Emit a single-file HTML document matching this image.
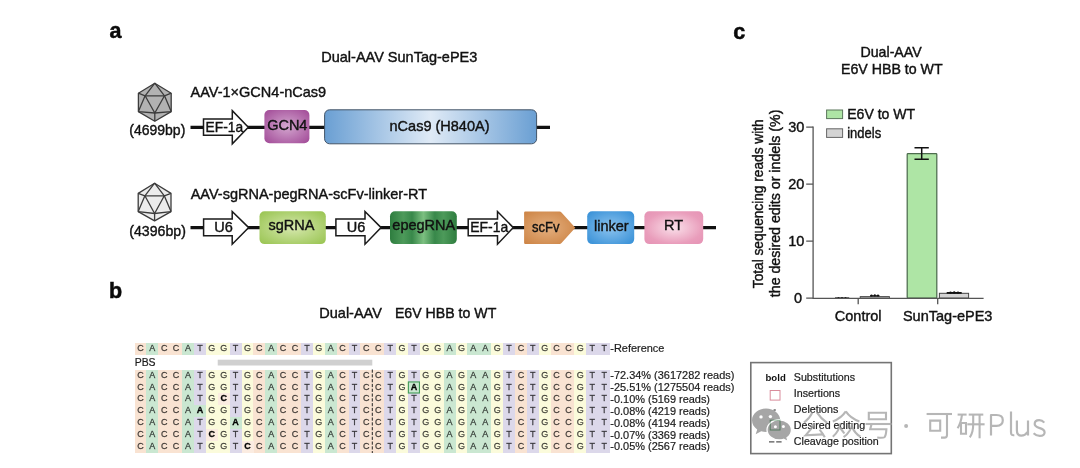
<!DOCTYPE html>
<html>
<head>
<meta charset="utf-8">
<title>Dual-AAV SunTag-ePE3</title>
<style>
html,body{margin:0;padding:0;background:#fff;}
body{width:1080px;height:468px;overflow:hidden;font-family:"Liberation Sans",sans-serif;}
svg{display:block;filter:blur(0.65px);}
text{font-family:"Liberation Sans",sans-serif;fill:#1c1c1c;}
.pl{font-weight:bold;font-size:21.5px;fill:#0a0a0a;stroke:#0a0a0a;stroke-width:0.5px;}
.t14{font-size:14.5px;fill:#111;stroke:#111;stroke-width:0.4px;}
.seq text{font-size:9px;text-anchor:middle;fill:#000;fill-opacity:0.68;stroke:#000;stroke-opacity:0.6;stroke-width:0.3px;}
.seq text.b{font-weight:bold;fill:#000;fill-opacity:1;stroke-opacity:1;}
.lab text{font-size:10.95px;fill:#1c1c1c;stroke:#1c1c1c;stroke-width:0.2px;}
</style>
</head>
<body>
<svg width="1080" height="468" viewBox="0 0 1080 468">
<defs>
  <radialGradient id="gGCN4" cx="50%" cy="50%" r="65%">
    <stop offset="0" stop-color="#d3a6cf"/><stop offset="1" stop-color="#a44f9a"/>
  </radialGradient>
  <linearGradient id="gCas" x1="0" x2="1" y1="0" y2="0">
    <stop offset="0" stop-color="#6a9fd3"/><stop offset="0.5" stop-color="#dfeaf6"/><stop offset="1" stop-color="#6a9fd3"/>
  </linearGradient>
  <radialGradient id="gSg" cx="50%" cy="50%" r="65%">
    <stop offset="0" stop-color="#d6e8ae"/><stop offset="1" stop-color="#9cc656"/>
  </radialGradient>
  <linearGradient id="gEpeg" x1="0" x2="1" y1="0" y2="0">
    <stop offset="0" stop-color="#2e7d3f"/><stop offset="0.2" stop-color="#4d9a5a"/><stop offset="0.33" stop-color="#38884a"/><stop offset="0.5" stop-color="#7cbf80"/><stop offset="0.67" stop-color="#38884a"/><stop offset="0.8" stop-color="#4d9a5a"/><stop offset="1" stop-color="#2e7d3f"/>
  </linearGradient>
  <radialGradient id="gSc" cx="45%" cy="50%" r="65%">
    <stop offset="0" stop-color="#e4b080"/><stop offset="1" stop-color="#cd8445"/>
  </radialGradient>
  <radialGradient id="gLk" cx="50%" cy="50%" r="65%">
    <stop offset="0" stop-color="#8cc3ee"/><stop offset="1" stop-color="#3a92d8"/>
  </radialGradient>
  <radialGradient id="gRT" cx="50%" cy="50%" r="65%">
    <stop offset="0" stop-color="#fae0ea"/><stop offset="0.75" stop-color="#e99dbb"/><stop offset="1" stop-color="#e695b6"/>
  </radialGradient>
</defs>

<!-- ================= PANEL A ================= -->
<g id="panelA">
  <text class="pl" x="109.5" y="38.2">a</text>
  <text class="t14" x="399.3" y="61.8" text-anchor="middle">Dual-AAV SunTag-ePE3</text>

  <!-- icosahedron 1 -->
  <g stroke="#3c3c3c" stroke-width="1.3" stroke-linejoin="round" fill="none">
    <polygon points="154.8,83.2 171.2,93.2 171.2,111.6 154.8,121.2 138.4,111.6 138.4,93.2" fill="#b2b2b2"/>
    <polygon points="145.1,95.8 164.5,95.8 154.8,113"/>
    <path d="M154.8,83.200L145.100,95.800M154.800,83.200L164.500,95.800M138.400,93.200L145.100,95.800M138.400,111.600L145.100,95.800M171.200,93.200L164.500,95.800M171.200,111.600L164.500,95.800M138.400,111.600L154.800,113M171.200,111.600L154.800,113M154.800,121.200L154.800,113"/>
  </g>
  <text class="t14" x="190.6" y="97.1">AAV-1×GCN4-nCas9</text>
  <text class="t14" x="129.3" y="134.8" textLength="56" lengthAdjust="spacingAndGlyphs">(4699bp)</text>

  <line x1="190.5" y1="127.3" x2="550" y2="127.3" stroke="#111" stroke-width="3.2"/>
  <!-- EF-1a arrow -->
  <polygon points="203.5,118.9 232.3,118.9 232.3,110.7 248.3,127.3 232.3,143.8 232.3,135.3 203.5,135.3" fill="#fff" stroke="#1a1a1a" stroke-width="1.5"/>
  <text class="t14" x="205.6" y="132.3" textLength="37.5" lengthAdjust="spacingAndGlyphs">EF-1a</text>
  <!-- GCN4 -->
  <rect x="264.4" y="110" width="45" height="33.3" rx="5" fill="url(#gGCN4)"/>
  <text class="t14" x="287.3" y="130.2" text-anchor="middle">GCN4</text>
  <!-- nCas9 -->
  <rect x="324.6" y="109.8" width="212" height="34" rx="5" fill="url(#gCas)" stroke="#435467" stroke-width="1"/>
  <text class="t14" x="439.5" y="130.6" text-anchor="middle">nCas9 (H840A)</text>

  <!-- icosahedron 2 -->
  <g stroke="#3c3c3c" stroke-width="1.3" stroke-linejoin="round" fill="none" transform="translate(-0.2,100)">
    <polygon points="154.8,83.200 171.200,93.400 171.200,111.600 154.800,120.900 138.400,111.600 138.400,93.400" fill="#ececec"/>
    <polygon points="145.100,95.800 164.500,95.800 154.800,113.500"/>
    <path d="M154.800,83.200L145.100,95.800M154.800,83.200L164.500,95.800M138.400,93.400L145.100,95.800M138.400,111.600L145.100,95.800M171.200,93.400L164.500,95.800M171.200,111.600L164.500,95.800M138.400,111.600L154.800,113.500M171.200,111.600L154.800,113.500M154.800,120.900L154.800,113.500"/>
  </g>
  <text class="t14" x="190.7" y="198.9">AAV-sgRNA-pegRNA-scFv-linker-RT</text>
  <text class="t14" x="129.3" y="235.8" textLength="56.6" lengthAdjust="spacingAndGlyphs">(4396bp)</text>

  <line x1="190.5" y1="227.6" x2="716" y2="227.6" stroke="#111" stroke-width="3.2"/>
  <!-- U6 arrow 1 -->
  <polygon points="203.6,218.9 232.2,218.9 232.2,211.5 248.7,227.6 232.2,244.2 232.2,235.8 203.6,235.8" fill="#fff" stroke="#1a1a1a" stroke-width="1.5"/>
  <text class="t14" x="223.6" y="231.8" text-anchor="middle">U6</text>
  <!-- sgRNA -->
  <rect x="259.5" y="211.3" width="66.3" height="32.8" rx="5" fill="url(#gSg)"/>
  <text class="t14" x="291.5" y="230.3" text-anchor="middle">sgRNA</text>
  <!-- U6 arrow 2 -->
  <polygon points="335.9,218.9 365,218.9 365,211.5 381.1,227.6 365,244.2 365,235.8 335.9,235.8" fill="#fff" stroke="#1a1a1a" stroke-width="1.5"/>
  <text class="t14" x="356" y="231.8" text-anchor="middle">U6</text>
  <!-- epegRNA -->
  <rect x="390" y="211.3" width="66.8" height="32.8" rx="5" fill="url(#gEpeg)"/>
  <text class="t14" x="423.8" y="230.3" text-anchor="middle">epegRNA</text>
  <!-- EF-1a arrow 2 -->
  <polygon points="468.2,218.9 497.5,218.9 497.5,211.5 513.3,227.6 497.5,244.2 497.5,235.8 468.2,235.8" fill="#fff" stroke="#1a1a1a" stroke-width="1.5"/>
  <text class="t14" x="470.3" y="232" textLength="38" lengthAdjust="spacingAndGlyphs">EF-1a</text>
  <!-- scFv -->
  <path d="M525.3,211.5H559.5Q560.7,211.5 561.5,212.4L575.3,227.7L561.5,243.1Q560.700,244 559.500,244H525.300Q524.100,244 524.100,242.800V212.700Q524.100,211.500 525.300,211.500Z" fill="url(#gSc)"/>
  <text class="t14" x="545.7" y="231.7" text-anchor="middle" textLength="27.5" lengthAdjust="spacingAndGlyphs">scFv</text>
  <!-- linker -->
  <rect x="587.2" y="211.3" width="47" height="32.8" rx="5" fill="url(#gLk)"/>
  <text class="t14" x="611.3" y="230.8" text-anchor="middle">linker</text>
  <!-- RT -->
  <rect x="644.4" y="211.3" width="58.8" height="32.8" rx="5" fill="url(#gRT)"/>
  <text class="t14" x="673.6" y="229.8" text-anchor="middle">RT</text>
</g>

<!-- PANEL_B_START -->
<g id="panelB">
<text class="pl" x="109" y="298">b</text>
<text class="t14" x="319.3" y="318.3">Dual-AAV</text>
<text class="t14" x="394.9" y="318.3" textLength="101.4" lengthAdjust="spacingAndGlyphs">E6V HBB to WT</text>
<g shape-rendering="crispEdges">
<rect x="134.50" y="343.00" width="12.19" height="11.80" fill="#f9e3d2"/>
<rect x="146.39" y="343.00" width="12.19" height="11.80" fill="#cae7d1"/>
<rect x="158.28" y="343.00" width="24.08" height="11.80" fill="#f9e3d2"/>
<rect x="182.06" y="343.00" width="12.19" height="11.80" fill="#cae7d1"/>
<rect x="193.95" y="343.00" width="12.19" height="11.80" fill="#dcd8ea"/>
<rect x="205.84" y="343.00" width="24.08" height="11.80" fill="#fbfbdb"/>
<rect x="229.62" y="343.00" width="12.19" height="11.80" fill="#dcd8ea"/>
<rect x="241.51" y="343.00" width="12.19" height="11.80" fill="#fbfbdb"/>
<rect x="253.40" y="343.00" width="12.19" height="11.80" fill="#f9e3d2"/>
<rect x="265.29" y="343.00" width="12.19" height="11.80" fill="#cae7d1"/>
<rect x="277.18" y="343.00" width="24.08" height="11.80" fill="#f9e3d2"/>
<rect x="300.96" y="343.00" width="12.19" height="11.80" fill="#dcd8ea"/>
<rect x="312.85" y="343.00" width="12.19" height="11.80" fill="#fbfbdb"/>
<rect x="324.74" y="343.00" width="12.19" height="11.80" fill="#cae7d1"/>
<rect x="336.63" y="343.00" width="12.19" height="11.80" fill="#f9e3d2"/>
<rect x="348.52" y="343.00" width="12.19" height="11.80" fill="#dcd8ea"/>
<rect x="360.41" y="343.00" width="24.08" height="11.80" fill="#f9e3d2"/>
<rect x="384.19" y="343.00" width="12.19" height="11.80" fill="#dcd8ea"/>
<rect x="396.08" y="343.00" width="12.19" height="11.80" fill="#fbfbdb"/>
<rect x="407.97" y="343.00" width="12.19" height="11.80" fill="#dcd8ea"/>
<rect x="419.86" y="343.00" width="24.08" height="11.80" fill="#fbfbdb"/>
<rect x="443.64" y="343.00" width="12.19" height="11.80" fill="#cae7d1"/>
<rect x="455.53" y="343.00" width="12.19" height="11.80" fill="#fbfbdb"/>
<rect x="467.42" y="343.00" width="24.08" height="11.80" fill="#cae7d1"/>
<rect x="491.20" y="343.00" width="12.19" height="11.80" fill="#fbfbdb"/>
<rect x="503.09" y="343.00" width="12.19" height="11.80" fill="#dcd8ea"/>
<rect x="514.98" y="343.00" width="12.19" height="11.80" fill="#f9e3d2"/>
<rect x="526.87" y="343.00" width="12.19" height="11.80" fill="#dcd8ea"/>
<rect x="538.76" y="343.00" width="12.19" height="11.80" fill="#fbfbdb"/>
<rect x="550.65" y="343.00" width="24.08" height="11.80" fill="#f9e3d2"/>
<rect x="574.43" y="343.00" width="12.19" height="11.80" fill="#fbfbdb"/>
<rect x="586.32" y="343.00" width="24.08" height="11.80" fill="#dcd8ea"/>
<rect x="134.50" y="369.70" width="12.19" height="12.15" fill="#f9e3d2"/>
<rect x="146.39" y="369.70" width="12.19" height="12.15" fill="#cae7d1"/>
<rect x="158.28" y="369.70" width="24.08" height="12.15" fill="#f9e3d2"/>
<rect x="182.06" y="369.70" width="12.19" height="12.15" fill="#cae7d1"/>
<rect x="193.95" y="369.70" width="12.19" height="12.15" fill="#dcd8ea"/>
<rect x="205.84" y="369.70" width="24.08" height="12.15" fill="#fbfbdb"/>
<rect x="229.62" y="369.70" width="12.19" height="12.15" fill="#dcd8ea"/>
<rect x="241.51" y="369.70" width="12.19" height="12.15" fill="#fbfbdb"/>
<rect x="253.40" y="369.70" width="12.19" height="12.15" fill="#f9e3d2"/>
<rect x="265.29" y="369.70" width="12.19" height="12.15" fill="#cae7d1"/>
<rect x="277.18" y="369.70" width="24.08" height="12.15" fill="#f9e3d2"/>
<rect x="300.96" y="369.70" width="12.19" height="12.15" fill="#dcd8ea"/>
<rect x="312.85" y="369.70" width="12.19" height="12.15" fill="#fbfbdb"/>
<rect x="324.74" y="369.70" width="12.19" height="12.15" fill="#cae7d1"/>
<rect x="336.63" y="369.70" width="12.19" height="12.15" fill="#f9e3d2"/>
<rect x="348.52" y="369.70" width="12.19" height="12.15" fill="#dcd8ea"/>
<rect x="360.41" y="369.70" width="24.08" height="12.15" fill="#f9e3d2"/>
<rect x="384.19" y="369.70" width="12.19" height="12.15" fill="#dcd8ea"/>
<rect x="396.08" y="369.70" width="12.19" height="12.15" fill="#fbfbdb"/>
<rect x="407.97" y="369.70" width="12.19" height="12.15" fill="#dcd8ea"/>
<rect x="419.86" y="369.70" width="24.08" height="12.15" fill="#fbfbdb"/>
<rect x="443.64" y="369.70" width="12.19" height="12.15" fill="#cae7d1"/>
<rect x="455.53" y="369.70" width="12.19" height="12.15" fill="#fbfbdb"/>
<rect x="467.42" y="369.70" width="24.08" height="12.15" fill="#cae7d1"/>
<rect x="491.20" y="369.70" width="12.19" height="12.15" fill="#fbfbdb"/>
<rect x="503.09" y="369.70" width="12.19" height="12.15" fill="#dcd8ea"/>
<rect x="514.98" y="369.70" width="12.19" height="12.15" fill="#f9e3d2"/>
<rect x="526.87" y="369.70" width="12.19" height="12.15" fill="#dcd8ea"/>
<rect x="538.76" y="369.70" width="12.19" height="12.15" fill="#fbfbdb"/>
<rect x="550.65" y="369.70" width="24.08" height="12.15" fill="#f9e3d2"/>
<rect x="574.43" y="369.70" width="12.19" height="12.15" fill="#fbfbdb"/>
<rect x="586.32" y="369.70" width="24.08" height="12.15" fill="#dcd8ea"/>
<rect x="134.50" y="381.55" width="12.19" height="12.15" fill="#f9e3d2"/>
<rect x="146.39" y="381.55" width="12.19" height="12.15" fill="#cae7d1"/>
<rect x="158.28" y="381.55" width="24.08" height="12.15" fill="#f9e3d2"/>
<rect x="182.06" y="381.55" width="12.19" height="12.15" fill="#cae7d1"/>
<rect x="193.95" y="381.55" width="12.19" height="12.15" fill="#dcd8ea"/>
<rect x="205.84" y="381.55" width="24.08" height="12.15" fill="#fbfbdb"/>
<rect x="229.62" y="381.55" width="12.19" height="12.15" fill="#dcd8ea"/>
<rect x="241.51" y="381.55" width="12.19" height="12.15" fill="#fbfbdb"/>
<rect x="253.40" y="381.55" width="12.19" height="12.15" fill="#f9e3d2"/>
<rect x="265.29" y="381.55" width="12.19" height="12.15" fill="#cae7d1"/>
<rect x="277.18" y="381.55" width="24.08" height="12.15" fill="#f9e3d2"/>
<rect x="300.96" y="381.55" width="12.19" height="12.15" fill="#dcd8ea"/>
<rect x="312.85" y="381.55" width="12.19" height="12.15" fill="#fbfbdb"/>
<rect x="324.74" y="381.55" width="12.19" height="12.15" fill="#cae7d1"/>
<rect x="336.63" y="381.55" width="12.19" height="12.15" fill="#f9e3d2"/>
<rect x="348.52" y="381.55" width="12.19" height="12.15" fill="#dcd8ea"/>
<rect x="360.41" y="381.55" width="24.08" height="12.15" fill="#f9e3d2"/>
<rect x="384.19" y="381.55" width="12.19" height="12.15" fill="#dcd8ea"/>
<rect x="396.08" y="381.55" width="12.19" height="12.15" fill="#fbfbdb"/>
<rect x="407.97" y="381.55" width="12.19" height="12.15" fill="#cae7d1"/>
<rect x="419.86" y="381.55" width="24.08" height="12.15" fill="#fbfbdb"/>
<rect x="443.64" y="381.55" width="12.19" height="12.15" fill="#cae7d1"/>
<rect x="455.53" y="381.55" width="12.19" height="12.15" fill="#fbfbdb"/>
<rect x="467.42" y="381.55" width="24.08" height="12.15" fill="#cae7d1"/>
<rect x="491.20" y="381.55" width="12.19" height="12.15" fill="#fbfbdb"/>
<rect x="503.09" y="381.55" width="12.19" height="12.15" fill="#dcd8ea"/>
<rect x="514.98" y="381.55" width="12.19" height="12.15" fill="#f9e3d2"/>
<rect x="526.87" y="381.55" width="12.19" height="12.15" fill="#dcd8ea"/>
<rect x="538.76" y="381.55" width="12.19" height="12.15" fill="#fbfbdb"/>
<rect x="550.65" y="381.55" width="24.08" height="12.15" fill="#f9e3d2"/>
<rect x="574.43" y="381.55" width="12.19" height="12.15" fill="#fbfbdb"/>
<rect x="586.32" y="381.55" width="24.08" height="12.15" fill="#dcd8ea"/>
<rect x="134.50" y="393.40" width="12.19" height="12.15" fill="#f9e3d2"/>
<rect x="146.39" y="393.40" width="12.19" height="12.15" fill="#cae7d1"/>
<rect x="158.28" y="393.40" width="24.08" height="12.15" fill="#f9e3d2"/>
<rect x="182.06" y="393.40" width="12.19" height="12.15" fill="#cae7d1"/>
<rect x="193.95" y="393.40" width="12.19" height="12.15" fill="#dcd8ea"/>
<rect x="205.84" y="393.40" width="12.19" height="12.15" fill="#fbfbdb"/>
<rect x="217.73" y="393.40" width="12.19" height="12.15" fill="#f9e3d2"/>
<rect x="229.62" y="393.40" width="12.19" height="12.15" fill="#dcd8ea"/>
<rect x="241.51" y="393.40" width="12.19" height="12.15" fill="#fbfbdb"/>
<rect x="253.40" y="393.40" width="12.19" height="12.15" fill="#f9e3d2"/>
<rect x="265.29" y="393.40" width="12.19" height="12.15" fill="#cae7d1"/>
<rect x="277.18" y="393.40" width="24.08" height="12.15" fill="#f9e3d2"/>
<rect x="300.96" y="393.40" width="12.19" height="12.15" fill="#dcd8ea"/>
<rect x="312.85" y="393.40" width="12.19" height="12.15" fill="#fbfbdb"/>
<rect x="324.74" y="393.40" width="12.19" height="12.15" fill="#cae7d1"/>
<rect x="336.63" y="393.40" width="12.19" height="12.15" fill="#f9e3d2"/>
<rect x="348.52" y="393.40" width="12.19" height="12.15" fill="#dcd8ea"/>
<rect x="360.41" y="393.40" width="24.08" height="12.15" fill="#f9e3d2"/>
<rect x="384.19" y="393.40" width="12.19" height="12.15" fill="#dcd8ea"/>
<rect x="396.08" y="393.40" width="12.19" height="12.15" fill="#fbfbdb"/>
<rect x="407.97" y="393.40" width="12.19" height="12.15" fill="#dcd8ea"/>
<rect x="419.86" y="393.40" width="24.08" height="12.15" fill="#fbfbdb"/>
<rect x="443.64" y="393.40" width="12.19" height="12.15" fill="#cae7d1"/>
<rect x="455.53" y="393.40" width="12.19" height="12.15" fill="#fbfbdb"/>
<rect x="467.42" y="393.40" width="24.08" height="12.15" fill="#cae7d1"/>
<rect x="491.20" y="393.40" width="12.19" height="12.15" fill="#fbfbdb"/>
<rect x="503.09" y="393.40" width="12.19" height="12.15" fill="#dcd8ea"/>
<rect x="514.98" y="393.40" width="12.19" height="12.15" fill="#f9e3d2"/>
<rect x="526.87" y="393.40" width="12.19" height="12.15" fill="#dcd8ea"/>
<rect x="538.76" y="393.40" width="12.19" height="12.15" fill="#fbfbdb"/>
<rect x="550.65" y="393.40" width="24.08" height="12.15" fill="#f9e3d2"/>
<rect x="574.43" y="393.40" width="12.19" height="12.15" fill="#fbfbdb"/>
<rect x="586.32" y="393.40" width="24.08" height="12.15" fill="#dcd8ea"/>
<rect x="217.73" y="393.40" width="12.19" height="12.15" fill="#fbece1"/>
<rect x="134.50" y="405.25" width="12.19" height="12.15" fill="#f9e3d2"/>
<rect x="146.39" y="405.25" width="12.19" height="12.15" fill="#cae7d1"/>
<rect x="158.28" y="405.25" width="24.08" height="12.15" fill="#f9e3d2"/>
<rect x="182.06" y="405.25" width="24.08" height="12.15" fill="#cae7d1"/>
<rect x="205.84" y="405.25" width="24.08" height="12.15" fill="#fbfbdb"/>
<rect x="229.62" y="405.25" width="12.19" height="12.15" fill="#dcd8ea"/>
<rect x="241.51" y="405.25" width="12.19" height="12.15" fill="#fbfbdb"/>
<rect x="253.40" y="405.25" width="12.19" height="12.15" fill="#f9e3d2"/>
<rect x="265.29" y="405.25" width="12.19" height="12.15" fill="#cae7d1"/>
<rect x="277.18" y="405.25" width="24.08" height="12.15" fill="#f9e3d2"/>
<rect x="300.96" y="405.25" width="12.19" height="12.15" fill="#dcd8ea"/>
<rect x="312.85" y="405.25" width="12.19" height="12.15" fill="#fbfbdb"/>
<rect x="324.74" y="405.25" width="12.19" height="12.15" fill="#cae7d1"/>
<rect x="336.63" y="405.25" width="12.19" height="12.15" fill="#f9e3d2"/>
<rect x="348.52" y="405.25" width="12.19" height="12.15" fill="#dcd8ea"/>
<rect x="360.41" y="405.25" width="24.08" height="12.15" fill="#f9e3d2"/>
<rect x="384.19" y="405.25" width="12.19" height="12.15" fill="#dcd8ea"/>
<rect x="396.08" y="405.25" width="12.19" height="12.15" fill="#fbfbdb"/>
<rect x="407.97" y="405.25" width="12.19" height="12.15" fill="#dcd8ea"/>
<rect x="419.86" y="405.25" width="24.08" height="12.15" fill="#fbfbdb"/>
<rect x="443.64" y="405.25" width="12.19" height="12.15" fill="#cae7d1"/>
<rect x="455.53" y="405.25" width="12.19" height="12.15" fill="#fbfbdb"/>
<rect x="467.42" y="405.25" width="24.08" height="12.15" fill="#cae7d1"/>
<rect x="491.20" y="405.25" width="12.19" height="12.15" fill="#fbfbdb"/>
<rect x="503.09" y="405.25" width="12.19" height="12.15" fill="#dcd8ea"/>
<rect x="514.98" y="405.25" width="12.19" height="12.15" fill="#f9e3d2"/>
<rect x="526.87" y="405.25" width="12.19" height="12.15" fill="#dcd8ea"/>
<rect x="538.76" y="405.25" width="12.19" height="12.15" fill="#fbfbdb"/>
<rect x="550.65" y="405.25" width="24.08" height="12.15" fill="#f9e3d2"/>
<rect x="574.43" y="405.25" width="12.19" height="12.15" fill="#fbfbdb"/>
<rect x="586.32" y="405.25" width="24.08" height="12.15" fill="#dcd8ea"/>
<rect x="134.50" y="417.10" width="12.19" height="12.15" fill="#f9e3d2"/>
<rect x="146.39" y="417.10" width="12.19" height="12.15" fill="#cae7d1"/>
<rect x="158.28" y="417.10" width="24.08" height="12.15" fill="#f9e3d2"/>
<rect x="182.06" y="417.10" width="12.19" height="12.15" fill="#cae7d1"/>
<rect x="193.95" y="417.10" width="12.19" height="12.15" fill="#dcd8ea"/>
<rect x="205.84" y="417.10" width="24.08" height="12.15" fill="#fbfbdb"/>
<rect x="229.62" y="417.10" width="12.19" height="12.15" fill="#cae7d1"/>
<rect x="241.51" y="417.10" width="12.19" height="12.15" fill="#fbfbdb"/>
<rect x="253.40" y="417.10" width="12.19" height="12.15" fill="#f9e3d2"/>
<rect x="265.29" y="417.10" width="12.19" height="12.15" fill="#cae7d1"/>
<rect x="277.18" y="417.10" width="24.08" height="12.15" fill="#f9e3d2"/>
<rect x="300.96" y="417.10" width="12.19" height="12.15" fill="#dcd8ea"/>
<rect x="312.85" y="417.10" width="12.19" height="12.15" fill="#fbfbdb"/>
<rect x="324.74" y="417.10" width="12.19" height="12.15" fill="#cae7d1"/>
<rect x="336.63" y="417.10" width="12.19" height="12.15" fill="#f9e3d2"/>
<rect x="348.52" y="417.10" width="12.19" height="12.15" fill="#dcd8ea"/>
<rect x="360.41" y="417.10" width="24.08" height="12.15" fill="#f9e3d2"/>
<rect x="384.19" y="417.10" width="12.19" height="12.15" fill="#dcd8ea"/>
<rect x="396.08" y="417.10" width="12.19" height="12.15" fill="#fbfbdb"/>
<rect x="407.97" y="417.10" width="12.19" height="12.15" fill="#dcd8ea"/>
<rect x="419.86" y="417.10" width="24.08" height="12.15" fill="#fbfbdb"/>
<rect x="443.64" y="417.10" width="12.19" height="12.15" fill="#cae7d1"/>
<rect x="455.53" y="417.10" width="12.19" height="12.15" fill="#fbfbdb"/>
<rect x="467.42" y="417.10" width="24.08" height="12.15" fill="#cae7d1"/>
<rect x="491.20" y="417.10" width="12.19" height="12.15" fill="#fbfbdb"/>
<rect x="503.09" y="417.10" width="12.19" height="12.15" fill="#dcd8ea"/>
<rect x="514.98" y="417.10" width="12.19" height="12.15" fill="#f9e3d2"/>
<rect x="526.87" y="417.10" width="12.19" height="12.15" fill="#dcd8ea"/>
<rect x="538.76" y="417.10" width="12.19" height="12.15" fill="#fbfbdb"/>
<rect x="550.65" y="417.10" width="24.08" height="12.15" fill="#f9e3d2"/>
<rect x="574.43" y="417.10" width="12.19" height="12.15" fill="#fbfbdb"/>
<rect x="586.32" y="417.10" width="24.08" height="12.15" fill="#dcd8ea"/>
<rect x="134.50" y="428.95" width="12.19" height="12.15" fill="#f9e3d2"/>
<rect x="146.39" y="428.95" width="12.19" height="12.15" fill="#cae7d1"/>
<rect x="158.28" y="428.95" width="24.08" height="12.15" fill="#f9e3d2"/>
<rect x="182.06" y="428.95" width="12.19" height="12.15" fill="#cae7d1"/>
<rect x="193.95" y="428.95" width="12.19" height="12.15" fill="#dcd8ea"/>
<rect x="205.84" y="428.95" width="12.19" height="12.15" fill="#f9e3d2"/>
<rect x="217.73" y="428.95" width="12.19" height="12.15" fill="#fbfbdb"/>
<rect x="229.62" y="428.95" width="12.19" height="12.15" fill="#dcd8ea"/>
<rect x="241.51" y="428.95" width="12.19" height="12.15" fill="#fbfbdb"/>
<rect x="253.40" y="428.95" width="12.19" height="12.15" fill="#f9e3d2"/>
<rect x="265.29" y="428.95" width="12.19" height="12.15" fill="#cae7d1"/>
<rect x="277.18" y="428.95" width="24.08" height="12.15" fill="#f9e3d2"/>
<rect x="300.96" y="428.95" width="12.19" height="12.15" fill="#dcd8ea"/>
<rect x="312.85" y="428.95" width="12.19" height="12.15" fill="#fbfbdb"/>
<rect x="324.74" y="428.95" width="12.19" height="12.15" fill="#cae7d1"/>
<rect x="336.63" y="428.95" width="12.19" height="12.15" fill="#f9e3d2"/>
<rect x="348.52" y="428.95" width="12.19" height="12.15" fill="#dcd8ea"/>
<rect x="360.41" y="428.95" width="24.08" height="12.15" fill="#f9e3d2"/>
<rect x="384.19" y="428.95" width="12.19" height="12.15" fill="#dcd8ea"/>
<rect x="396.08" y="428.95" width="12.19" height="12.15" fill="#fbfbdb"/>
<rect x="407.97" y="428.95" width="12.19" height="12.15" fill="#dcd8ea"/>
<rect x="419.86" y="428.95" width="24.08" height="12.15" fill="#fbfbdb"/>
<rect x="443.64" y="428.95" width="12.19" height="12.15" fill="#cae7d1"/>
<rect x="455.53" y="428.95" width="12.19" height="12.15" fill="#fbfbdb"/>
<rect x="467.42" y="428.95" width="24.08" height="12.15" fill="#cae7d1"/>
<rect x="491.20" y="428.95" width="12.19" height="12.15" fill="#fbfbdb"/>
<rect x="503.09" y="428.95" width="12.19" height="12.15" fill="#dcd8ea"/>
<rect x="514.98" y="428.95" width="12.19" height="12.15" fill="#f9e3d2"/>
<rect x="526.87" y="428.95" width="12.19" height="12.15" fill="#dcd8ea"/>
<rect x="538.76" y="428.95" width="12.19" height="12.15" fill="#fbfbdb"/>
<rect x="550.65" y="428.95" width="24.08" height="12.15" fill="#f9e3d2"/>
<rect x="574.43" y="428.95" width="12.19" height="12.15" fill="#fbfbdb"/>
<rect x="586.32" y="428.95" width="24.08" height="12.15" fill="#dcd8ea"/>
<rect x="205.84" y="428.95" width="12.19" height="12.15" fill="#fbece1"/>
<rect x="134.50" y="440.80" width="12.19" height="12.15" fill="#f9e3d2"/>
<rect x="146.39" y="440.80" width="12.19" height="12.15" fill="#cae7d1"/>
<rect x="158.28" y="440.80" width="24.08" height="12.15" fill="#f9e3d2"/>
<rect x="182.06" y="440.80" width="12.19" height="12.15" fill="#cae7d1"/>
<rect x="193.95" y="440.80" width="12.19" height="12.15" fill="#dcd8ea"/>
<rect x="205.84" y="440.80" width="24.08" height="12.15" fill="#fbfbdb"/>
<rect x="229.62" y="440.80" width="12.19" height="12.15" fill="#dcd8ea"/>
<rect x="241.51" y="440.80" width="24.08" height="12.15" fill="#f9e3d2"/>
<rect x="265.29" y="440.80" width="12.19" height="12.15" fill="#cae7d1"/>
<rect x="277.18" y="440.80" width="24.08" height="12.15" fill="#f9e3d2"/>
<rect x="300.96" y="440.80" width="12.19" height="12.15" fill="#dcd8ea"/>
<rect x="312.85" y="440.80" width="12.19" height="12.15" fill="#fbfbdb"/>
<rect x="324.74" y="440.80" width="12.19" height="12.15" fill="#cae7d1"/>
<rect x="336.63" y="440.80" width="12.19" height="12.15" fill="#f9e3d2"/>
<rect x="348.52" y="440.80" width="12.19" height="12.15" fill="#dcd8ea"/>
<rect x="360.41" y="440.80" width="24.08" height="12.15" fill="#f9e3d2"/>
<rect x="384.19" y="440.80" width="12.19" height="12.15" fill="#dcd8ea"/>
<rect x="396.08" y="440.80" width="12.19" height="12.15" fill="#fbfbdb"/>
<rect x="407.97" y="440.80" width="12.19" height="12.15" fill="#dcd8ea"/>
<rect x="419.86" y="440.80" width="24.08" height="12.15" fill="#fbfbdb"/>
<rect x="443.64" y="440.80" width="12.19" height="12.15" fill="#cae7d1"/>
<rect x="455.53" y="440.80" width="12.19" height="12.15" fill="#fbfbdb"/>
<rect x="467.42" y="440.80" width="24.08" height="12.15" fill="#cae7d1"/>
<rect x="491.20" y="440.80" width="12.19" height="12.15" fill="#fbfbdb"/>
<rect x="503.09" y="440.80" width="12.19" height="12.15" fill="#dcd8ea"/>
<rect x="514.98" y="440.80" width="12.19" height="12.15" fill="#f9e3d2"/>
<rect x="526.87" y="440.80" width="12.19" height="12.15" fill="#dcd8ea"/>
<rect x="538.76" y="440.80" width="12.19" height="12.15" fill="#fbfbdb"/>
<rect x="550.65" y="440.80" width="24.08" height="12.15" fill="#f9e3d2"/>
<rect x="574.43" y="440.80" width="12.19" height="12.15" fill="#fbfbdb"/>
<rect x="586.32" y="440.80" width="24.08" height="12.15" fill="#dcd8ea"/>
<rect x="241.51" y="440.80" width="12.19" height="12.15" fill="#fbece1"/>
</g>
<g class="seq">
<text x="140.44" y="351.05">C</text>
<text x="152.34" y="351.05">A</text>
<text x="164.22" y="351.05">C</text>
<text x="176.12" y="351.05">C</text>
<text x="188.00" y="351.05">A</text>
<text x="199.90" y="351.05">T</text>
<text x="211.78" y="351.05">G</text>
<text x="223.68" y="351.05">G</text>
<text x="235.56" y="351.05">T</text>
<text x="247.46" y="351.05">G</text>
<text x="259.35" y="351.05">C</text>
<text x="271.24" y="351.05">A</text>
<text x="283.12" y="351.05">C</text>
<text x="295.01" y="351.05">C</text>
<text x="306.90" y="351.05">T</text>
<text x="318.80" y="351.05">G</text>
<text x="330.69" y="351.05">A</text>
<text x="342.58" y="351.05">C</text>
<text x="354.47" y="351.05">T</text>
<text x="366.36" y="351.05">C</text>
<text x="378.25" y="351.05">C</text>
<text x="390.13" y="351.05">T</text>
<text x="402.03" y="351.05">G</text>
<text x="413.92" y="351.05">T</text>
<text x="425.81" y="351.05">G</text>
<text x="437.69" y="351.05">G</text>
<text x="449.59" y="351.05">A</text>
<text x="461.48" y="351.05">G</text>
<text x="473.37" y="351.05">A</text>
<text x="485.25" y="351.05">A</text>
<text x="497.15" y="351.05">G</text>
<text x="509.04" y="351.05">T</text>
<text x="520.92" y="351.05">C</text>
<text x="532.82" y="351.05">T</text>
<text x="544.71" y="351.05">G</text>
<text x="556.60" y="351.05">C</text>
<text x="568.49" y="351.05">C</text>
<text x="580.38" y="351.05">G</text>
<text x="592.27" y="351.05">T</text>
<text x="604.15" y="351.05">T</text>
<text x="140.44" y="377.65">C</text>
<text x="152.34" y="377.65">A</text>
<text x="164.22" y="377.65">C</text>
<text x="176.12" y="377.65">C</text>
<text x="188.00" y="377.65">A</text>
<text x="199.90" y="377.65">T</text>
<text x="211.78" y="377.65">G</text>
<text x="223.68" y="377.65">G</text>
<text x="235.56" y="377.65">T</text>
<text x="247.46" y="377.65">G</text>
<text x="259.35" y="377.65">C</text>
<text x="271.24" y="377.65">A</text>
<text x="283.12" y="377.65">C</text>
<text x="295.01" y="377.65">C</text>
<text x="306.90" y="377.65">T</text>
<text x="318.80" y="377.65">G</text>
<text x="330.69" y="377.65">A</text>
<text x="342.58" y="377.65">C</text>
<text x="354.47" y="377.65">T</text>
<text x="366.36" y="377.65">C</text>
<text x="378.25" y="377.65">C</text>
<text x="390.13" y="377.65">T</text>
<text x="402.03" y="377.65">G</text>
<text x="413.92" y="377.65">T</text>
<text x="425.81" y="377.65">G</text>
<text x="437.69" y="377.65">G</text>
<text x="449.59" y="377.65">A</text>
<text x="461.48" y="377.65">G</text>
<text x="473.37" y="377.65">A</text>
<text x="485.25" y="377.65">A</text>
<text x="497.15" y="377.65">G</text>
<text x="509.04" y="377.65">T</text>
<text x="520.92" y="377.65">C</text>
<text x="532.82" y="377.65">T</text>
<text x="544.71" y="377.65">G</text>
<text x="556.60" y="377.65">C</text>
<text x="568.49" y="377.65">C</text>
<text x="580.38" y="377.65">G</text>
<text x="592.27" y="377.65">T</text>
<text x="604.15" y="377.65">T</text>
<text x="140.44" y="389.50">C</text>
<text x="152.34" y="389.50">A</text>
<text x="164.22" y="389.50">C</text>
<text x="176.12" y="389.50">C</text>
<text x="188.00" y="389.50">A</text>
<text x="199.90" y="389.50">T</text>
<text x="211.78" y="389.50">G</text>
<text x="223.68" y="389.50">G</text>
<text x="235.56" y="389.50">T</text>
<text x="247.46" y="389.50">G</text>
<text x="259.35" y="389.50">C</text>
<text x="271.24" y="389.50">A</text>
<text x="283.12" y="389.50">C</text>
<text x="295.01" y="389.50">C</text>
<text x="306.90" y="389.50">T</text>
<text x="318.80" y="389.50">G</text>
<text x="330.69" y="389.50">A</text>
<text x="342.58" y="389.50">C</text>
<text x="354.47" y="389.50">T</text>
<text x="366.36" y="389.50">C</text>
<text x="378.25" y="389.50">C</text>
<text x="390.13" y="389.50">T</text>
<text x="402.03" y="389.50">G</text>
<text x="413.92" y="389.50" class="b">A</text>
<text x="425.81" y="389.50">G</text>
<text x="437.69" y="389.50">G</text>
<text x="449.59" y="389.50">A</text>
<text x="461.48" y="389.50">G</text>
<text x="473.37" y="389.50">A</text>
<text x="485.25" y="389.50">A</text>
<text x="497.15" y="389.50">G</text>
<text x="509.04" y="389.50">T</text>
<text x="520.92" y="389.50">C</text>
<text x="532.82" y="389.50">T</text>
<text x="544.71" y="389.50">G</text>
<text x="556.60" y="389.50">C</text>
<text x="568.49" y="389.50">C</text>
<text x="580.38" y="389.50">G</text>
<text x="592.27" y="389.50">T</text>
<text x="604.15" y="389.50">T</text>
<text x="140.44" y="401.35">C</text>
<text x="152.34" y="401.35">A</text>
<text x="164.22" y="401.35">C</text>
<text x="176.12" y="401.35">C</text>
<text x="188.00" y="401.35">A</text>
<text x="199.90" y="401.35">T</text>
<text x="211.78" y="401.35">G</text>
<text x="223.68" y="401.35" class="b">C</text>
<text x="235.56" y="401.35">T</text>
<text x="247.46" y="401.35">G</text>
<text x="259.35" y="401.35">C</text>
<text x="271.24" y="401.35">A</text>
<text x="283.12" y="401.35">C</text>
<text x="295.01" y="401.35">C</text>
<text x="306.90" y="401.35">T</text>
<text x="318.80" y="401.35">G</text>
<text x="330.69" y="401.35">A</text>
<text x="342.58" y="401.35">C</text>
<text x="354.47" y="401.35">T</text>
<text x="366.36" y="401.35">C</text>
<text x="378.25" y="401.35">C</text>
<text x="390.13" y="401.35">T</text>
<text x="402.03" y="401.35">G</text>
<text x="413.92" y="401.35">T</text>
<text x="425.81" y="401.35">G</text>
<text x="437.69" y="401.35">G</text>
<text x="449.59" y="401.35">A</text>
<text x="461.48" y="401.35">G</text>
<text x="473.37" y="401.35">A</text>
<text x="485.25" y="401.35">A</text>
<text x="497.15" y="401.35">G</text>
<text x="509.04" y="401.35">T</text>
<text x="520.92" y="401.35">C</text>
<text x="532.82" y="401.35">T</text>
<text x="544.71" y="401.35">G</text>
<text x="556.60" y="401.35">C</text>
<text x="568.49" y="401.35">C</text>
<text x="580.38" y="401.35">G</text>
<text x="592.27" y="401.35">T</text>
<text x="604.15" y="401.35">T</text>
<text x="140.44" y="413.20">C</text>
<text x="152.34" y="413.20">A</text>
<text x="164.22" y="413.20">C</text>
<text x="176.12" y="413.20">C</text>
<text x="188.00" y="413.20">A</text>
<text x="199.90" y="413.20" class="b">A</text>
<text x="211.78" y="413.20">G</text>
<text x="223.68" y="413.20">G</text>
<text x="235.56" y="413.20">T</text>
<text x="247.46" y="413.20">G</text>
<text x="259.35" y="413.20">C</text>
<text x="271.24" y="413.20">A</text>
<text x="283.12" y="413.20">C</text>
<text x="295.01" y="413.20">C</text>
<text x="306.90" y="413.20">T</text>
<text x="318.80" y="413.20">G</text>
<text x="330.69" y="413.20">A</text>
<text x="342.58" y="413.20">C</text>
<text x="354.47" y="413.20">T</text>
<text x="366.36" y="413.20">C</text>
<text x="378.25" y="413.20">C</text>
<text x="390.13" y="413.20">T</text>
<text x="402.03" y="413.20">G</text>
<text x="413.92" y="413.20">T</text>
<text x="425.81" y="413.20">G</text>
<text x="437.69" y="413.20">G</text>
<text x="449.59" y="413.20">A</text>
<text x="461.48" y="413.20">G</text>
<text x="473.37" y="413.20">A</text>
<text x="485.25" y="413.20">A</text>
<text x="497.15" y="413.20">G</text>
<text x="509.04" y="413.20">T</text>
<text x="520.92" y="413.20">C</text>
<text x="532.82" y="413.20">T</text>
<text x="544.71" y="413.20">G</text>
<text x="556.60" y="413.20">C</text>
<text x="568.49" y="413.20">C</text>
<text x="580.38" y="413.20">G</text>
<text x="592.27" y="413.20">T</text>
<text x="604.15" y="413.20">T</text>
<text x="140.44" y="425.05">C</text>
<text x="152.34" y="425.05">A</text>
<text x="164.22" y="425.05">C</text>
<text x="176.12" y="425.05">C</text>
<text x="188.00" y="425.05">A</text>
<text x="199.90" y="425.05">T</text>
<text x="211.78" y="425.05">G</text>
<text x="223.68" y="425.05">G</text>
<text x="235.56" y="425.05" class="b">A</text>
<text x="247.46" y="425.05">G</text>
<text x="259.35" y="425.05">C</text>
<text x="271.24" y="425.05">A</text>
<text x="283.12" y="425.05">C</text>
<text x="295.01" y="425.05">C</text>
<text x="306.90" y="425.05">T</text>
<text x="318.80" y="425.05">G</text>
<text x="330.69" y="425.05">A</text>
<text x="342.58" y="425.05">C</text>
<text x="354.47" y="425.05">T</text>
<text x="366.36" y="425.05">C</text>
<text x="378.25" y="425.05">C</text>
<text x="390.13" y="425.05">T</text>
<text x="402.03" y="425.05">G</text>
<text x="413.92" y="425.05">T</text>
<text x="425.81" y="425.05">G</text>
<text x="437.69" y="425.05">G</text>
<text x="449.59" y="425.05">A</text>
<text x="461.48" y="425.05">G</text>
<text x="473.37" y="425.05">A</text>
<text x="485.25" y="425.05">A</text>
<text x="497.15" y="425.05">G</text>
<text x="509.04" y="425.05">T</text>
<text x="520.92" y="425.05">C</text>
<text x="532.82" y="425.05">T</text>
<text x="544.71" y="425.05">G</text>
<text x="556.60" y="425.05">C</text>
<text x="568.49" y="425.05">C</text>
<text x="580.38" y="425.05">G</text>
<text x="592.27" y="425.05">T</text>
<text x="604.15" y="425.05">T</text>
<text x="140.44" y="436.90">C</text>
<text x="152.34" y="436.90">A</text>
<text x="164.22" y="436.90">C</text>
<text x="176.12" y="436.90">C</text>
<text x="188.00" y="436.90">A</text>
<text x="199.90" y="436.90">T</text>
<text x="211.78" y="436.90" class="b">C</text>
<text x="223.68" y="436.90">G</text>
<text x="235.56" y="436.90">T</text>
<text x="247.46" y="436.90">G</text>
<text x="259.35" y="436.90">C</text>
<text x="271.24" y="436.90">A</text>
<text x="283.12" y="436.90">C</text>
<text x="295.01" y="436.90">C</text>
<text x="306.90" y="436.90">T</text>
<text x="318.80" y="436.90">G</text>
<text x="330.69" y="436.90">A</text>
<text x="342.58" y="436.90">C</text>
<text x="354.47" y="436.90">T</text>
<text x="366.36" y="436.90">C</text>
<text x="378.25" y="436.90">C</text>
<text x="390.13" y="436.90">T</text>
<text x="402.03" y="436.90">G</text>
<text x="413.92" y="436.90">T</text>
<text x="425.81" y="436.90">G</text>
<text x="437.69" y="436.90">G</text>
<text x="449.59" y="436.90">A</text>
<text x="461.48" y="436.90">G</text>
<text x="473.37" y="436.90">A</text>
<text x="485.25" y="436.90">A</text>
<text x="497.15" y="436.90">G</text>
<text x="509.04" y="436.90">T</text>
<text x="520.92" y="436.90">C</text>
<text x="532.82" y="436.90">T</text>
<text x="544.71" y="436.90">G</text>
<text x="556.60" y="436.90">C</text>
<text x="568.49" y="436.90">C</text>
<text x="580.38" y="436.90">G</text>
<text x="592.27" y="436.90">T</text>
<text x="604.15" y="436.90">T</text>
<text x="140.44" y="448.75">C</text>
<text x="152.34" y="448.75">A</text>
<text x="164.22" y="448.75">C</text>
<text x="176.12" y="448.75">C</text>
<text x="188.00" y="448.75">A</text>
<text x="199.90" y="448.75">T</text>
<text x="211.78" y="448.75">G</text>
<text x="223.68" y="448.75">G</text>
<text x="235.56" y="448.75">T</text>
<text x="247.46" y="448.75" class="b">C</text>
<text x="259.35" y="448.75">C</text>
<text x="271.24" y="448.75">A</text>
<text x="283.12" y="448.75">C</text>
<text x="295.01" y="448.75">C</text>
<text x="306.90" y="448.75">T</text>
<text x="318.80" y="448.75">G</text>
<text x="330.69" y="448.75">A</text>
<text x="342.58" y="448.75">C</text>
<text x="354.47" y="448.75">T</text>
<text x="366.36" y="448.75">C</text>
<text x="378.25" y="448.75">C</text>
<text x="390.13" y="448.75">T</text>
<text x="402.03" y="448.75">G</text>
<text x="413.92" y="448.75">T</text>
<text x="425.81" y="448.75">G</text>
<text x="437.69" y="448.75">G</text>
<text x="449.59" y="448.75">A</text>
<text x="461.48" y="448.75">G</text>
<text x="473.37" y="448.75">A</text>
<text x="485.25" y="448.75">A</text>
<text x="497.15" y="448.75">G</text>
<text x="509.04" y="448.75">T</text>
<text x="520.92" y="448.75">C</text>
<text x="532.82" y="448.75">T</text>
<text x="544.71" y="448.75">G</text>
<text x="556.60" y="448.75">C</text>
<text x="568.49" y="448.75">C</text>
<text x="580.38" y="448.75">G</text>
<text x="592.27" y="448.75">T</text>
<text x="604.15" y="448.75">T</text>
</g>
<g class="lab">
<text x="610.3" y="352.20">-Reference</text>
<text x="610.3" y="379.30">-72.34% (3617282 reads)</text>
<text x="610.3" y="391.15">-25.51% (1275504 reads)</text>
<text x="610.3" y="403.00">-0.10% (5169 reads)</text>
<text x="610.3" y="414.85">-0.08% (4219 reads)</text>
<text x="610.3" y="426.70">-0.08% (4194 reads)</text>
<text x="610.3" y="438.55">-0.07% (3369 reads)</text>
<text x="610.3" y="450.40">-0.05% (2567 reads)</text>
<text x="134.7" y="365.7" style="font-size:10.45px">PBS</text>
</g>
<rect x="217.73" y="359.7" width="154.57" height="5.8" fill="#d0d0d0"/>
<line x1="372.30" y1="369.5" x2="372.30" y2="453" stroke="#222" stroke-width="1" stroke-dasharray="3.2,1.6"/>
<rect x="408.37" y="381.95" width="11.09" height="11.05" fill="none" stroke="#3f9b55" stroke-width="1.1"/>
</g>
<!-- PANEL_B_END -->

<!-- PANEL_C_START -->
<g id="panelC">
  <text class="pl" x="733.2" y="38.5">c</text>
  <text class="t14" x="891.1" y="56.5" text-anchor="middle" style="font-size:14.2px">Dual-AAV</text>
  <text class="t14" x="891.8" y="74" text-anchor="middle" style="font-size:14.2px">E6V HBB to WT</text>
  <!-- y label -->
  <text class="t14" transform="translate(763.2,288.2) rotate(-90)" textLength="168.8" lengthAdjust="spacingAndGlyphs">Total sequencing reads with</text>
  <text class="t14" transform="translate(779.8,297.2) rotate(-90)" textLength="187.6" lengthAdjust="spacingAndGlyphs">the desired edits or indels (%)</text>
  <!-- bars -->
  <rect x="907.2" y="153.6" width="29.6" height="144.5" fill="#aee5a5" stroke="#4d6c4e" stroke-width="1.25" rx="0.8"/>
  <rect x="939.4" y="293.3" width="29.2" height="4.8" fill="#d4d4d4" stroke="#444" stroke-width="1"/>
  <rect x="860.2" y="296.6" width="29.2" height="1.5" fill="#d4d4d4" stroke="#444" stroke-width="0.9"/>
  <!-- control green (approx zero) -->
  <line x1="835" y1="298.2" x2="849.2" y2="298.2" stroke="#111" stroke-width="1.6"/>
  <!-- error bars / points -->
  <g stroke="#111" stroke-width="1.3" fill="none">
    <path d="M921.7,147.7V159.2M914.5,147.7H928.8M914.5,159.200H928.800" stroke-width="1.5"/>
    <path d="M946.7,292.9H961.7" stroke-width="1.8"/>
    <path d="M870,295.8H879.5" stroke-width="1.2"/>
  </g>
  <g fill="#111">
    <circle cx="950.5" cy="292.6" r="1.2"/><circle cx="954.2" cy="292.4" r="1.2"/><circle cx="958" cy="292.6" r="1.2"/>
    <circle cx="871.5" cy="295.500" r="1.1"/><circle cx="874.800" cy="295.300" r="1.1"/><circle cx="878" cy="295.500" r="1.1"/>
    <circle cx="838.500" cy="298" r="1"/><circle cx="842" cy="298" r="1"/><circle cx="845.500" cy="298" r="1"/>
  </g>
  <!-- axes -->
  <g stroke="#555" stroke-width="1.3" fill="none">
    <path d="M813.1,126.5V298.300H983.600"/>
    <path d="M806.2,127.1H813.1M806.2,184.2H813.1M806.2,241.2H813.1M806.2,298.1H813.1"/>
    <path d="M858.2,298.1V304.3M937.7,298.1V304.3"/>
  </g>
  <text class="t14" x="804.3" y="132" text-anchor="end">30</text>
  <text class="t14" x="804.3" y="189" text-anchor="end">20</text>
  <text class="t14" x="804.3" y="245.8" text-anchor="end">10</text>
  <text class="t14" x="802" y="302.6" text-anchor="end">0</text>
  <text class="t14" x="858.2" y="320.5" text-anchor="middle">Control</text>
  <text class="t14" x="947.7" y="320.5" text-anchor="middle">SunTag-ePE3</text>
  <!-- legend -->
  <rect x="826.6" y="110" width="16" height="8.6" fill="#aee5a5" stroke="#5b775b" stroke-width="1"/>
  <rect x="826.6" y="128.8" width="16" height="8.6" fill="#d4d4d4" stroke="#666" stroke-width="1"/>
  <text class="t14" x="847.2" y="118.6" textLength="68" lengthAdjust="spacingAndGlyphs">E6V to WT</text>
  <text class="t14" x="847.2" y="137.6" textLength="34" lengthAdjust="spacingAndGlyphs">indels</text>
</g>
<!-- PANEL_C_END -->

<!-- LEGEND_START -->
<g id="legend">
  <rect x="750.8" y="362.6" width="140.5" height="91" fill="#fff" stroke="#747474" stroke-width="1.6"/>
  <text x="765.5" y="381" style="font-size:9.6px;font-weight:bold;fill:#111">bold</text>
  <g style="font-size:10.7px;stroke:#1c1c1c;stroke-width:0.2px">
    <text x="793.8" y="381.3">Substitutions</text>
    <text x="793.8" y="396.5">Insertions</text>
    <text x="793.8" y="413.2">Deletions</text>
    <text x="793.8" y="429">Desired editing</text>
    <text x="793.8" y="444.5">Cleavage position</text>
  </g>
  <rect x="770.2" y="390.5" width="9.8" height="9.6" fill="none" stroke="#d98c9c" stroke-width="1"/>
  <rect x="770.2" y="420.2" width="9.8" height="9.8" fill="none" stroke="#4a9a60" stroke-width="1"/>
  <line x1="773.6" y1="410" x2="775.8" y2="410" stroke="#333" stroke-width="1.1"/>
  <line x1="769" y1="441.8" x2="781.6" y2="441.8" stroke="#555" stroke-width="1.2" stroke-dasharray="5.4,1.8"/>
</g>
<!-- LEGEND_END -->

<!-- WATERMARK_START -->
<g id="wmicon" opacity="0.55">
  <g fill="#5e5e5e">
    <path d="M766.1,408.6c-7.8,0-14.1,5.2-14.1,11.7c0,3.7,2,7,5.2,9.100l-1.500,4.800l5.500,-2.900c1.500,0.400,3.200,0.700,4.900,0.700c7.800,0,14.100,-5.200,14.100,-11.700s-6.300,-11.700,-14.100,-11.700z"/>
    <path d="M779.2,419.800c6.700,0,12.200,4.500,12.200,10.100c0,3.100,-1.700,5.900,-4.400,7.800l1.300,4.100l-4.700,-2.500c-1.400,0.400,-2.900,0.600,-4.400,0.600c-6.700,0,-12.200,-4.500,-12.200,-10.100s5.500,-10.100,12.200,-10.100z" stroke="#fff" stroke-width="1.3"/>
  </g>
  <g fill="#fff">
    <circle cx="761" cy="416.9" r="1.7"/><circle cx="770.4" cy="416.6" r="1.7"/>
    <circle cx="775.4" cy="426.7" r="1.5"/><circle cx="783.4" cy="426.5" r="1.5"/>
  </g>
</g>
<g id="watermark" opacity="0.78">
  <g fill="none" stroke="#a2a2a2" stroke-width="2.1" stroke-linecap="butt" stroke-linejoin="miter">
    <!-- 公 -->
    <path d="M812.3,412.6C810.5,416.500 807.500,420 804,422.600"/>
    <path d="M817,412.600C819.500,416.500 823,420 827.200,422.800"/>
    <path d="M814.200,423.500C812,428 809,432 805.500,435.400L823,434.400"/>
    <path d="M819.600,429.600C821.600,432 823.400,434.600 824.800,437.300"/>
    <!-- 众 -->
    <path d="M845.800,411.300C842.800,415.800 838.200,419.300 832.800,421.400"/>
    <path d="M845.800,411.300C848.800,415.800 853.800,419.300 859.400,421.400"/>
    <path d="M840,423.500C839.500,428.500 837,433.200 832.800,436.800"/>
    <path d="M839.800,427.500C841.400,429.500 843,431.500 844.400,433.500"/>
    <path d="M852.200,423.500C851.700,428.800 848.500,433.500 843.600,437.200"/>
    <path d="M852.200,427C853.800,431 856.600,434.400 860.400,436.700"/>
    <!-- 号 -->
    <path d="M868.800,412.800H886V419.300H868.800Z"/>
    <path d="M865.600,424H891.800"/>
    <path d="M871.600,424L870.200,429.200H886.400C886.200,433 885.600,436 884.400,437.200C883.400,438 880.400,437.800 877.200,437.500"/>
    <!-- 可 -->
    <path d="M926.600,414H952"/>
    <path d="M947,414V435C947,437 946,437.600 944.500,437.600H941"/>
    <path d="M930.200,420.600H940.200V430.800H930.200Z"/>
    <!-- 研 -->
    <path d="M957.600,414.600H966.600"/>
    <path d="M962,414.600C961.400,419.800 960,424.400 957.600,428.200"/>
    <path d="M961,423H966V433.800H961Z"/>
    <path d="M968.700,414.600H983.300"/>
    <path d="M967.300,424.300H984.600"/>
    <path d="M973.200,414.600V424.300C973.200,429.500 972.400,433.800 969.800,437.300"/>
    <path d="M979.600,414.600V438.300"/>
  </g>
  <circle cx="906.100" cy="425.900" r="2" fill="#a2a2a2"/>
  <g fill="none" stroke="#a2a2a2" stroke-width="2.2" stroke-linejoin="round">
    <path d="M991,435.6V415H996.5C1000.5,415 1002.8,416.9 1002.8,420.3C1002.8,423.8 1000.3,425.8 996.5,425.8H991"/>
    <path d="M1011,411.6V432.3C1011,434.6 1012,435.5 1014.3,435.2"/>
    <path d="M1016.9,420.4V430.2C1016.9,433.8 1018.3,435.700 1021.4,435.700C1024,435.700 1026,434.200 1028,431.600M1028,420.400V435.600"/>
    <path d="M1044.3,422.6C1042.9,421 1041.2,420.2 1039.2,420.2C1036.4,420.2 1034.7,421.800 1034.7,423.900C1034.700,426.200 1036.700,427 1039.200,427.900C1042.200,428.900 1044.600,429.800 1044.600,432.200C1044.600,434.400 1042.700,435.900 1039.600,435.900C1037.200,435.900 1035.200,434.900 1033.600,433.300"/>
  </g>
</g>
<!-- WATERMARK_END -->

</svg>
</body>
</html>
